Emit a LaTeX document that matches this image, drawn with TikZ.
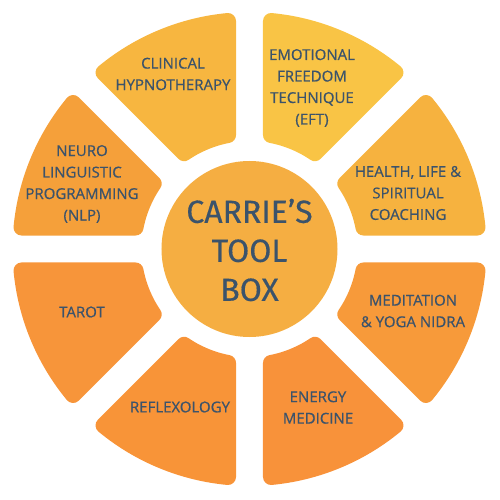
\documentclass[tikz,border=0pt]{standalone}
\usepackage{fontspec}
\setmainfont{Fira Sans}
\newfontfamily\lblfont[FakeBold=0.6]{Open Sans}
\newfontfamily\bigfont[FakeBold=0.4]{Fira Sans}
\definecolor{txt}{HTML}{3B536B}
\definecolor{cHealth}{HTML}{F6B23F}
\definecolor{cEFT}{HTML}{F9C445}
\definecolor{cClin}{HTML}{F7B640}
\definecolor{cNLP}{HTML}{F5A03A}
\definecolor{cTarot}{HTML}{F7953A}
\definecolor{cRefl}{HTML}{F89438}
\definecolor{cEnergy}{HTML}{F8923A}
\definecolor{cMed}{HTML}{F79A3A}
\definecolor{cCenter}{HTML}{F5AE42}
\newcommand{\seg}[3]{% #1 start angle, #2 end angle, #3 colour
  \pgfmathsetmacro{\ai}{#1+asin(21.5/116)}
  \pgfmathsetmacro{\ao}{#1+asin(21.5/229)}
  \pgfmathsetmacro{\bo}{#2-asin(21.5/229)}
  \pgfmathsetmacro{\bi}{#2-asin(21.5/116)}
  \draw[fill=#3, draw=#3, line width=16pt, line join=round]
    (\ai:116) -- (\ao:229) arc[start angle=\ao, end angle=\bo, radius=229]
    -- (\bi:116) arc[start angle=\bi, end angle=\ai, radius=116] -- cycle;
}
\begin{document}
\begin{tikzpicture}[x=1pt,y=1pt,
  lbl/.style={text=txt, font=\lblfont\fontsize{15}{21.5}\selectfont, align=center, inner sep=0pt},
  big/.style={text=txt, font=\bigfont\fontsize{32}{39}\selectfont, align=center, inner sep=0pt}]
\useasboundingbox (-249.5,-251) rectangle (250.5,249);
\seg{0}{45}{cHealth}
\seg{45}{90}{cEFT}
\seg{90}{135}{cClin}
\seg{135}{180}{cNLP}
\seg{180}{225}{cTarot}
\seg{225}{270}{cRefl}
\seg{270}{315}{cEnergy}
\seg{315}{360}{cMed}
\fill[cCenter] (0,0) circle (88);
\node[big] (center) at (0,-1) {CARRIE’S\\TOOL\\BOX};
\node[lbl] (clin) at (-76.5,175) {CLINICAL\\HYPNOTHERAPY};
\node[lbl] (eft) at (62.5,161) {EMOTIONAL\\FREEDOM\\TECHNIQUE\\(EFT)};
\node[lbl] (health) at (158.5,56) {HEALTH, LIFE \&\\SPIRITUAL\\COACHING};
\node[lbl] (nlp) at (-167.5,65) {NEURO\\LINGUISTIC\\PROGRAMMING\\(NLP)};
\node[lbl] (tarot) at (-167.5,-63) {TAROT};
\node[lbl] (refl) at (-69.5,-158) {REFLEXOLOGY};
\node[lbl] (med) at (163.5,-62) {MEDITATION\\\& YOGA NIDRA};
\node[lbl] (energy) at (68.5,-158.5) {ENERGY\\MEDICINE};
\end{tikzpicture}
\end{document}
